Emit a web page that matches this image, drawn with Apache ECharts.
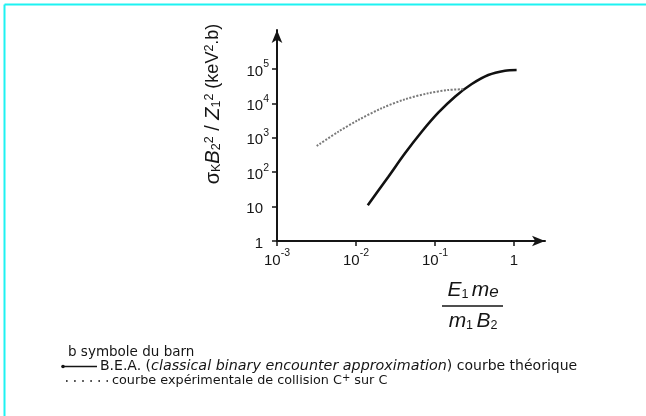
<!DOCTYPE html>
<html>
<head>
<meta charset="utf-8">
<script src="https://cdn.jsdelivr.net/npm/echarts@6/dist/echarts.min.js"></script>
<style>
  html, body { margin: 0; padding: 0; background: #fff; }
  #chart { width: 646px; height: 416px; }
</style>
</head>
<body>
<div id="chart"></div>
<script>
// ticks
const xTicks = [0.001, 0.01, 0.1, 1];
const yTicks = [1, 10, 100, 1000, 10000, 100000];

// B.E.A. (theorique) - trait plein
const beaX = [0.0141, 0.0257, 0.0417, 0.0679, 0.110, 0.179, 0.292, 0.473, 0.769, 1.08];
const beaY = [11, 74, 354, 1500, 5370, 15700, 36600, 67000, 89300, 93500];

// courbe experimentale C+ sur C - pointillés
const expX = [0.00318, 0.00597, 0.0107, 0.0211, 0.0417, 0.0822, 0.147, 0.228];
const expY = [578, 1500, 3290, 7210, 13150, 19700, 24550, 25700];

const FONT = '"Liberation Sans", Arial, sans-serif';
const FONT2 = '"DejaVu Sans", sans-serif';
const INK = '#151515';

function pairs(xs, ys) {
    return xs.map(function (x, i) { return [x, ys[i]]; });
}

// 10^n en texte riche
function powLabel(v, pad) {
    const e = Math.round(Math.log10(v));
    if (e === 0) return '{n|1}' + (pad ? '{sp|}' : '');
    if (e === 1) return '{n|10}' + (pad ? '{sp|}' : '');
    return '{n|10}{s|' + e + '}';
}

const labelRich = {
    n: { fontSize: 15, fontFamily: FONT, color: INK, lineHeight: 20, verticalAlign: 'bottom' },
    s: { fontSize: 10.5, fontFamily: FONT, color: INK, lineHeight: 10, verticalAlign: 'top' },
    sp: { width: 6 }
};

const myChart = echarts.init(document.getElementById('chart'), null, { renderer: 'canvas' });

myChart.setOption({
    backgroundColor: '#fff',
    animation: false,
    grid: {
        left: 277,
        top: 30,
        width: 268,
        height: 211,
        containLabel: false,
        outerBoundsMode: 'none'
    },
    xAxis: {
        type: 'log',
        logBase: 10,
        min: 0.001,
        max: 2.47,
        axisLine: {
            show: true,
            onZero: false,
            symbol: ['none', 'arrow'],
            symbolSize: [8, 13],
            lineStyle: { color: INK, width: 2 }
        },
        axisTick: {
            show: true,
            length: 5,
            customValues: xTicks,
            lineStyle: { color: INK, width: 1.5 }
        },
        axisLabel: {
            margin: 7,
            customValues: xTicks,
            formatter: function (v) { return powLabel(v, false); },
            rich: labelRich
        },
        minorTick: { show: false },
        splitLine: { show: false }
    },
    yAxis: {
        type: 'log',
        logBase: 10,
        min: 1,
        max: 1.36e6,
        axisLine: {
            show: true,
            onZero: false,
            symbol: ['none', 'arrow'],
            symbolSize: [8, 13],
            lineStyle: { color: INK, width: 2 }
        },
        axisTick: {
            show: true,
            length: 5,
            customValues: yTicks,
            lineStyle: { color: INK, width: 1.5 }
        },
        axisLabel: {
            margin: 8,
            customValues: yTicks,
            formatter: function (v) { return powLabel(v, true); },
            rich: labelRich
        },
        splitLine: { show: false }
    },
    series: [
        {
            name: 'B.E.A.',
            type: 'line',
            data: pairs(beaX, beaY),
            smooth: 0.3,
            showSymbol: false,
            lineStyle: { color: '#111', width: 2.6 }
        },
        {
            name: 'expérimentale',
            type: 'line',
            data: pairs(expX, expY),
            smooth: 0.3,
            showSymbol: false,
            lineStyle: { color: '#7a7a7a', width: 2, type: [2, 1.5] }
        }
    ],
    graphic: [
        // cadre cyan
        { type: 'line', shape: { x1: 4.5, y1: 4.5, x2: 646, y2: 4.5 }, style: { stroke: '#1ef2f2', lineWidth: 2 } },
        { type: 'line', shape: { x1: 4.5, y1: 4.5, x2: 4.5, y2: 416 }, style: { stroke: '#1ef2f2', lineWidth: 2 } },
        // nom de l'axe Y
        {
            type: 'text',
            x: 213,
            y: 104,
            rotation: Math.PI / 2,
            style: {
                text: '{g|σ}{sb|K}{i|B}{sb|2}{sp|2}{g| / }{i|Z}{sb|1}{sp|2}{t| (keV}{sp|2}{t|.b)}',
                align: 'center',
                verticalAlign: 'middle',
                rich: {
                    g: { fontSize: 20, fontFamily: FONT, fill: INK, lineHeight: 20, verticalAlign: 'middle' },
                    i: { fontSize: 20, fontFamily: FONT, fontStyle: 'italic', fill: INK, lineHeight: 20, verticalAlign: 'middle' },
                    t: { fontSize: 18, fontFamily: FONT, fill: INK, lineHeight: 20, verticalAlign: 'middle' },
                    sb: { fontSize: 12.5, fontFamily: FONT, fill: INK, lineHeight: 12, verticalAlign: 'bottom' },
                    sp: { fontSize: 12.5, fontFamily: FONT, fill: INK, lineHeight: 12, verticalAlign: 'top' }
                }
            }
        },
        // nom de l'axe X (fraction)
        {
            type: 'text',
            x: 473,
            y: 290,
            style: {
                text: '{i|E}{sb|1} {i|m}{sbi|e}',
                align: 'center',
                verticalAlign: 'middle',
                rich: {
                    i: { fontSize: 21, fontFamily: FONT, fontStyle: 'italic', fill: INK, lineHeight: 22, verticalAlign: 'middle' },
                    sb: { fontSize: 12.5, fontFamily: FONT, fill: INK, lineHeight: 13, verticalAlign: 'bottom' },
                    sbi: { fontSize: 17, fontFamily: FONT, fontStyle: 'italic', fill: INK, lineHeight: 14, verticalAlign: 'bottom' }
                }
            }
        },
        { type: 'line', shape: { x1: 442, y1: 306, x2: 503, y2: 306 }, style: { stroke: INK, lineWidth: 1.6 } },
        {
            type: 'text',
            x: 473,
            y: 321,
            style: {
                text: '{i|m}{sb|1} {i|B}{sb|2}',
                align: 'center',
                verticalAlign: 'middle',
                rich: {
                    i: { fontSize: 21, fontFamily: FONT, fontStyle: 'italic', fill: INK, lineHeight: 22, verticalAlign: 'middle' },
                    sb: { fontSize: 12.5, fontFamily: FONT, fill: INK, lineHeight: 13, verticalAlign: 'bottom' }
                }
            }
        },
        // légende
        {
            type: 'text', x: 68, y: 352,
            style: { text: 'b symbole du barn', font: '13.5px ' + FONT2, fill: INK, align: 'left', verticalAlign: 'middle' }
        },
        { type: 'line', shape: { x1: 63, y1: 366.5, x2: 97, y2: 366.5 }, style: { stroke: INK, lineWidth: 1.6 } },
        { type: 'circle', shape: { cx: 63, cy: 366.5, r: 1.8 }, style: { fill: INK } },
        {
            type: 'text', x: 100, y: 366,
            style: {
                text: '{t|B.E.A. (}{i|classical binary encounter approximation}{t|) courbe théorique}',
                align: 'left',
                verticalAlign: 'middle',
                rich: {
                    t: { fontSize: 14, fontFamily: FONT2, fill: INK },
                    i: { fontSize: 14.3, fontFamily: FONT2, fontStyle: 'italic', fill: INK }
                }
            }
        },
        { type: 'line', shape: { x1: 66, y1: 381, x2: 108, y2: 381 }, style: { stroke: '#444', lineWidth: 1.8, lineDash: [1.6, 6.5] } },
        {
            type: 'text', x: 112, y: 381,
            style: {
                text: '{t|courbe expérimentale de collision C}{sp|+}{t| sur C}',
                align: 'left',
                verticalAlign: 'middle',
                rich: {
                    t: { fontSize: 12.8, fontFamily: FONT2, fill: INK, lineHeight: 16, verticalAlign: 'middle' },
                    sp: { fontSize: 10, fontFamily: FONT2, fill: INK, lineHeight: 10, verticalAlign: 'top' }
                }
            }
        }
    ]
});
</script>
</body>
</html>
